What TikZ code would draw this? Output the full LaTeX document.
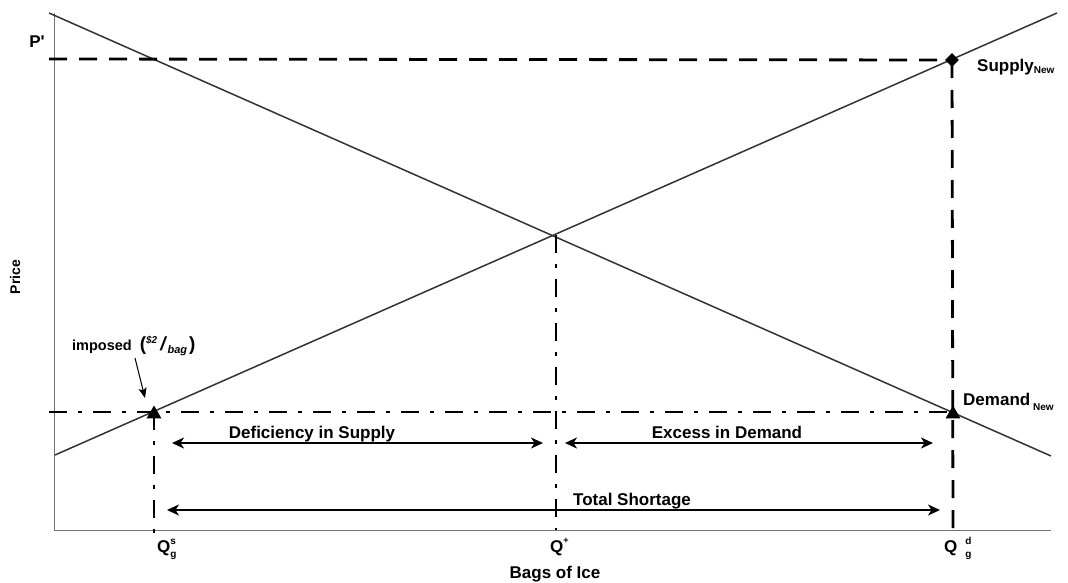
\documentclass[tikz,border=0pt]{standalone}
\usepackage{fontspec}
\setmainfont{Liberation Sans}
\usetikzlibrary{arrows.meta,shapes.geometric}
\newcommand{\fsz}[1]{\fontsize{#1}{#1}\selectfont}
\newcommand{\qsupsub}[2]{\rlap{\raisebox{8pt}{\fsz{10}#1}}\raisebox{-5pt}{\fsz{10}#2}}
\begin{document}
\begin{tikzpicture}[x=1pt,y=-1pt,
  font=\bfseries\fsz{17},
  curve/.style={draw=black!80, line width=1.5pt},
  axisline/.style={draw=black!55, line width=0.9pt},
  pricedash/.style={draw=black, line width=2.8pt, dash pattern=on 18pt off 12pt},
  ceildash/.style={draw=black, line width=2.5pt, dash pattern=on 18pt off 11pt on 4pt off 11pt},
  twoway/.style={draw=black, line width=1.8pt,
    {Stealth[length=12pt,width=11pt,inset=3.5pt]}-{Stealth[length=12pt,width=11pt,inset=3.5pt]}},
  tri/.style={regular polygon, regular polygon sides=3, fill=black, inner sep=0pt, minimum size=17pt},
  dia/.style={diamond, fill=black, inner sep=0pt, minimum size=14pt},
  lbl/.style={inner sep=0pt}]
\useasboundingbox (0,0) rectangle (1068,583);

% axes
\coordinate (Ytop) at (54,13);
\coordinate (O) at (54,530);
\coordinate (Xend) at (1051,530);
\draw[axisline] (Ytop) -- (O) -- (Xend);

% demand and supply curves
\coordinate (Dtop) at (49,13);
\coordinate (Dbot) at (1051,456);
\coordinate (Sbot) at (55,455);
\coordinate (Stop) at (1057,13);
\draw[curve] (Dtop) -- (Dbot);
\draw[curve] (Sbot) -- (Stop);

% key points
\coordinate (E) at (556,235);
\node[tri] (Qs) at (154,414) {};
\node[tri] (Qd) at (953,414) {};
\node[dia] (Pn) at (952,60) {};

% feet on the quantity axis
\coordinate (QsFoot) at (154,534);
\coordinate (QeFoot) at (556,530);
\coordinate (QdFoot) at (953,532);

% new price P'
\coordinate (Pleft) at (49,59);
\draw[pricedash] (Pleft) -- (Pn.center);
\draw[pricedash] (Pn.center) -- (QdFoot);

% imposed ceiling price
\coordinate (Gleft) at (49,412);
\coordinate (Gright) at (953,412);
\draw[ceildash] (Gleft) -- (Gright);
\draw[ceildash] (Gleft -| Qs) -- (QsFoot);
\draw[ceildash] (E) -- (QeFoot);

% shortage arrows
\coordinate (DefL) at (172,443);
\coordinate (DefR) at (543,443);
\coordinate (ExcL) at (565,443);
\coordinate (ExcR) at (933,443);
\coordinate (TotL) at (167,510);
\coordinate (TotR) at (940,510);
\draw[twoway] (DefL) -- (DefR);
\draw[twoway] (ExcL) -- (ExcR);
\draw[twoway] (TotL) -- (TotR);
\node[lbl, anchor=base] (DefTxt) at (312,438) {Deficiency in Supply};
\node[lbl, anchor=base] (ExcTxt) at (727,438) {Excess in Demand};
\node[lbl, anchor=base] (TotTxt) at (632,505) {Total Shortage};

% curve labels
\node[lbl, anchor=base west] (SupTxt) at (977,72) {Supply\raisebox{-2pt}{\fsz{10}New}};
\node[lbl, anchor=base west] (DemTxt) at (963,405) {Demand\,\raisebox{-5pt}{\fsz{10}New}};

% axis labels
\node[lbl] (PTxt) at (37,42) {P\textquotesingle};
\node[lbl, rotate=90, font=\bfseries\fsz{14}] (PriceTxt) at (15,277) {Price};
\node[lbl, anchor=base] (BagTxt) at (555,578) {Bags of Ice};
\node[lbl, anchor=base west] (QsTxt) at (157,552) {Q\qsupsub{s}{g}};
\node[lbl, anchor=base west] (QeTxt) at (550,552) {Q\raisebox{9pt}{\fsz{9}+}};
\node[lbl, anchor=base west] (QdTxt) at (944,552) {Q\hspace{8pt}\qsupsub{d}{g}};

% imposed price note
\node[lbl, anchor=base west, font=\bfseries\fsz{14.5}] (ImpTxt) at (72,350)
  {imposed\hspace{8pt}{\fsz{19}(}\raisebox{7pt}{\fsz{10}\itshape \$2}\hspace{3pt}{\fsz{19}\itshape /}\hspace{2pt}\raisebox{-3pt}{\fsz{11}\itshape bag}\hspace{2pt}{\fsz{19})}};
\coordinate (ImpS) at (135,358);
\coordinate (ImpT) at (145,398);
\draw[line width=1pt, -{Stealth[length=10pt,width=8pt,inset=2pt]}] (ImpS) -- (ImpT);
\end{tikzpicture}
\end{document}
